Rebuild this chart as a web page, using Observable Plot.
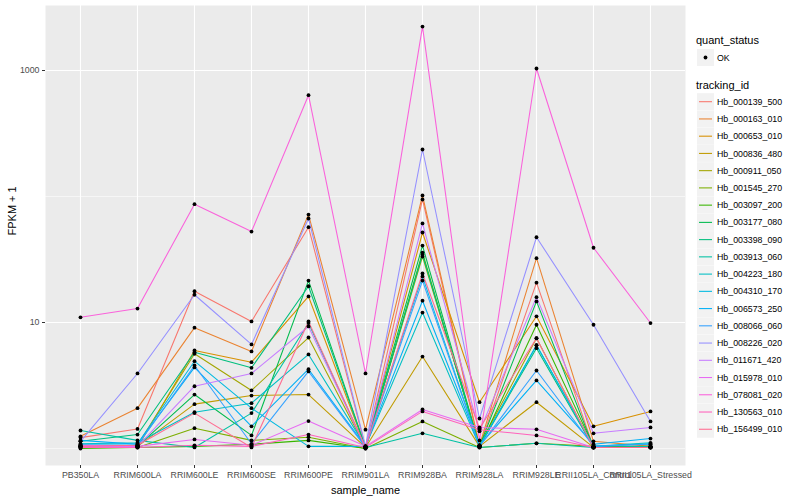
<!DOCTYPE html>
<html><head><meta charset="utf-8">
<script src="https://cdn.jsdelivr.net/npm/d3@7"></script>
<script src="https://cdn.jsdelivr.net/npm/@observablehq/plot@0.6"></script>
<style>
body{margin:0;background:#fff;}
#wrap{position:relative;width:800px;height:500px;font-family:"Liberation Sans",Arial,Helvetica,sans-serif;}
#legend{position:absolute;left:0;top:0;}
</style></head><body><div id="wrap"></div>
<script>
// x categories
const samples = ["PB350LA","RRIM600LA","RRIM600LE","RRIM600SE","RRIM600PE","RRIM901LA","RRIM928BA","RRIM928LA","RRIM928LE","RRII105LA_Control","RRII105LA_Stressed"];
// series names and colours (ggplot hue palette, 20 levels)
const trackingIds = ["Hb_000139_500","Hb_000163_010","Hb_000653_010","Hb_000836_480","Hb_000911_050","Hb_001545_270","Hb_003097_200","Hb_003177_080","Hb_003398_090","Hb_003913_060","Hb_004223_180","Hb_004310_170","Hb_006573_250","Hb_008066_060","Hb_008226_020","Hb_011671_420","Hb_015978_010","Hb_078081_020","Hb_130563_010","Hb_156499_010"];
const colors = ["#F8766D","#EA8331","#D89000","#C09B00","#A3A500","#7CAE00","#39B600","#00BB4E","#00BF7D","#00C1A3","#00BFC4","#00BAE0","#00B0F6","#35A2FF","#9590FF","#C77CFF","#E76BF3","#FA62DB","#FF62BC","#FF6C91"];
// FPKM + 1 values per series, in sample order
const hb_000139_500 = [1.22,1.43,17.7,10.2,57.1,1.02,94.7,1.04,20.7,1.02,1.02];
const hb_000163_010 = [1.25,2.09,9.1,5.89,71.9,1.41,102,1.06,32.4,1.14,1.04];
const hb_000653_010 = [1.04,1.02,6.0,4.84,16.1,1.02,51.8,2.33,11.2,1.50,1.97];
const hb_000836_480 = [1.02,1.04,2.25,2.63,2.68,1.02,5.37,1.04,2.33,1.02,1.02];
const hb_000911_050 = [1.04,1.06,5.65,2.89,7.6,1.02,33.4,1.06,7.5,1.02,1.04];
const hb_001545_270 = [1.02,1.02,1.45,1.16,1.23,1.0,1.64,1.02,1.10,1.04,1.04];
const hb_003097_200 = [1.0,1.02,1.04,1.08,1.16,1.0,35.9,1.02,9.6,1.04,1.02];
const hb_003177_080 = [1.04,1.04,2.68,1.27,21.5,1.02,40.8,1.04,14.7,1.02,1.02];
const hb_003398_090 = [1.14,1.29,5.81,4.37,19.4,1.02,34.6,1.04,6.25,1.02,1.02];
const hb_003913_060 = [1.39,1.16,1.02,1.91,9.9,1.02,1.32,1.02,1.10,1.02,1.04];
const hb_004223_180 = [1.09,1.11,1.94,2.29,5.58,1.04,12.0,1.04,6.6,1.04,1.11];
const hb_004310_170 = [1.08,1.09,4.93,2.09,1.04,1.04,23.2,1.04,6.6,1.04,1.09];
const hb_006573_250 = [1.16,1.08,4.40,1.50,4.26,1.04,14.9,1.06,3.47,1.08,1.20];
const hb_008066_060 = [1.06,1.06,4.56,1.09,4.09,1.02,21.5,1.04,4.16,1.04,1.08];
const hb_008226_020 = [1.14,3.94,16.6,6.7,66.9,1.04,236,1.73,47.5,9.6,1.64];
const hb_011671_420 = [1.04,1.04,3.12,3.94,9.3,1.02,61.1,1.37,15.9,1.32,1.47];
const hb_015978_010 = [1.06,1.04,1.18,1.06,1.65,1.04,2.04,1.47,1.42,1.02,1.02];
const hb_078081_020 = [11.0,12.9,86.9,52.7,637,3.94,2230,1.16,1037,39.2,9.9];
const hb_130563_010 = [1.02,1.02,1.06,1.04,1.29,1.02,1.97,1.41,1.27,1.02,1.02];
const hb_156499_010 = [1.04,1.06,1.91,1.02,10.2,1.02,24.5,1.44,7.5,1.02,1.02];
const seriesValues = [hb_000139_500,hb_000163_010,hb_000653_010,hb_000836_480,hb_000911_050,hb_001545_270,hb_003097_200,hb_003177_080,hb_003398_090,hb_003913_060,hb_004223_180,hb_004310_170,hb_006573_250,hb_008066_060,hb_008226_020,hb_011671_420,hb_015978_010,hb_078081_020,hb_130563_010,hb_156499_010];
const yTicksMajor = [10, 1000];
const yTicksMinor = [1, 100];

const rows = [];
trackingIds.forEach((id, i) => {
  seriesValues[i].forEach((v, j) => rows.push({id, sample: samples[j], value: v, quant_status: "OK"}));
});

const font = "Liberation Sans, Arial, Helvetica, sans-serif";
const plot = Plot.plot({
  width: 800, height: 500,
  marginLeft: 45, marginRight: 115, marginTop: 5, marginBottom: 35,
  style: {fontFamily: font, background: "white", overflow: "visible"},
  x: {type: "point", domain: samples, range: [80, 650], padding: 0, axis: null},
  y: {type: "log", domain: [0.733, 3280], axis: null},
  color: {domain: trackingIds, range: colors},
  marks: [
    Plot.frame({fill: "#EBEBEB", stroke: null}),
    Plot.gridY(yTicksMinor, {stroke: "white", strokeOpacity: 1, strokeWidth: 0.55}),
    Plot.gridY(yTicksMajor, {stroke: "white", strokeOpacity: 1, strokeWidth: 1.1}),
    Plot.gridX(samples, {stroke: "white", strokeOpacity: 1, strokeWidth: 1.1}),
    Plot.axisY(yTicksMajor, {tickSize: 3, tickPadding: 3, fontSize: 8.8, fill: "#4D4D4D", stroke: "#333333", label: null, tickFormat: d => String(d)}),
    Plot.axisX(samples, {tickSize: 3, tickPadding: 3, fontSize: 8.8, fill: "#4D4D4D", stroke: "#333333", label: null}),
    Plot.line(rows, {x: "sample", y: "value", z: "id", stroke: "id", strokeWidth: 1.07}),
    Plot.dot(rows, {x: "sample", y: "value", r: 1.9, fill: "black", stroke: null}),
    Plot.text(["FPKM + 1"], {frameAnchor: "left", dx: -33, rotate: -90, fontSize: 11, fill: "black"}),
    Plot.text(["sample_name"], {frameAnchor: "bottom", lineAnchor: "middle", dy: 25, fontSize: 11, fill: "black"})
  ]
});
const wrap = document.getElementById("wrap");
wrap.appendChild(plot);

// legend (right side)
const lg = d3.select(wrap).append("svg").attr("id", "legend")
  .attr("width", 800).attr("height", 500)
  .style("font-family", font).style("pointer-events", "none");
lg.append("text").attr("x", 696).attr("y", 44).attr("font-size", 11).attr("fill", "black").text("quant_status");
lg.append("rect").attr("x", 697).attr("y", 49).attr("width", 17).attr("height", 17).attr("fill", "#F2F2F2");
lg.append("circle").attr("cx", 705.5).attr("cy", 57.5).attr("r", 1.9).attr("fill", "black");
lg.append("text").attr("x", 717).attr("y", 60.6).attr("font-size", 8.8).attr("fill", "black").text("OK");
lg.append("text").attr("x", 696).attr("y", 89).attr("font-size", 11).attr("fill", "black").text("tracking_id");
trackingIds.forEach((id, i) => {
  const cy = 101.7 + i * 17.24;
  lg.append("rect").attr("x", 697).attr("y", cy - 8.5).attr("width", 17).attr("height", 17).attr("fill", "#F2F2F2");
  lg.append("line").attr("x1", 699).attr("x2", 712).attr("y1", cy).attr("y2", cy)
    .attr("stroke", colors[i]).attr("stroke-width", 1.07);
  lg.append("text").attr("x", 717).attr("y", cy + 3.1).attr("font-size", 8.8).attr("fill", "black").text(id);
});
</script></body></html>
